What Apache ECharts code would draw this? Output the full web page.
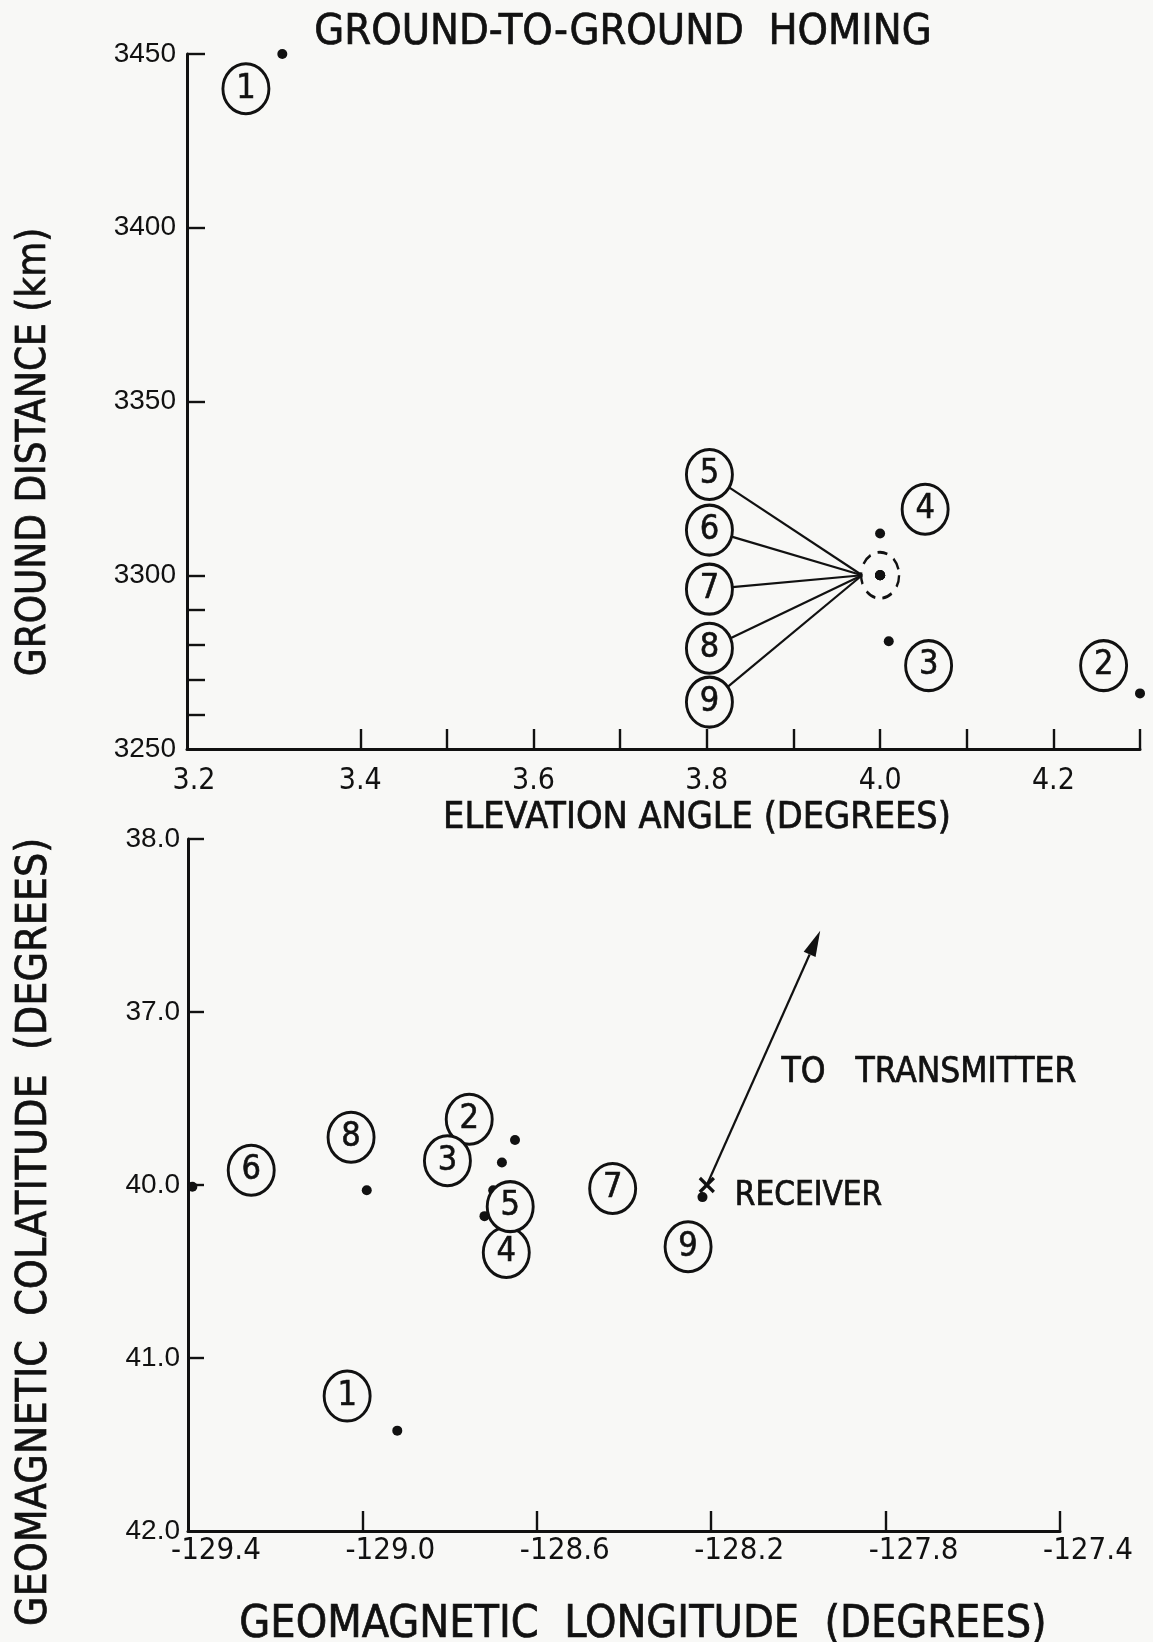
<!DOCTYPE html>
<html>
<head>
<meta charset="utf-8">
<script src="https://cdn.jsdelivr.net/npm/echarts@6/dist/echarts.min.js"></script>
<style>
  html, body { margin: 0; padding: 0; background: #f8f8f6; }
  #chart { width: 1153px; height: 1642px; }
</style>
</head>
<body>
<div id="chart"></div>
<script>
// ---- Ray paths 1..9: arrival elevation angle vs ground distance ----
const pathIds = ['1', '2', '3', '4', '5', '6', '7', '8', '9'];
const elevationDeg = [3.31, 4.30, 4.01, 4.00, 4.00, 4.00, 4.00, 4.00, 4.00];
const groundDistanceKm = [3450, 3266, 3281, 3312, 3300, 3300, 3300, 3300, 3300];

// ---- Same paths: geomagnetic landing coordinates ----
const geomagLongitude = [-128.92, -128.65, -128.68, -128.72, -128.70, -129.39, -128.43, -128.99, -128.22];
const geomagColatitude = [41.42, 39.74, 39.87, 40.18, 40.03, 40.01, 40.04, 40.03, 40.07];
const receiverLonColat = [-128.21, 40.0];
const transmitterBearingTip = [-127.95, 38.53];

// Paths whose points coincide inside the dashed ring (upper panel)
const coincidentPaths = ['5', '6', '7', '8', '9'];

// ---- Axis ticks and labels ----
const elevationLabelTicks = [3.2, 3.4, 3.6, 3.8, 4.0, 4.2];
const elevationMarkTicks = [3.4, 3.5, 3.6, 3.7, 3.8, 3.9, 4.0, 4.1, 4.2, 4.3];
const distanceLabelTicks = [3250, 3300, 3350, 3400, 3450];
const distanceMarkTicks = [3260, 3270, 3280, 3290, 3300, 3350, 3400, 3450];
const longitudeTicks = [-129.4, -129.0, -128.6, -128.2, -127.8, -127.4];
const longitudeTickLabels = ['-129.4', '-129.0', '-128.6', '-128.2', '-127.8', '-127.4'];
const colatitudeTicks = [38, 39, 40, 41, 42];
const colatitudeTickLabels = ['38.0', '37.0', '40.0', '41.0', '42.0'];

// ---- Where the circled path numbers are lettered (axis units) ----
const upperTagElevation = [3.268, 4.258, 4.056, 4.052, 3.803, 3.803, 3.803, 3.803, 3.803];
const upperTagDistance = [3440, 3274, 3274, 3319, 3329, 3313, 3296, 3279, 3263.5];
const lowerTagLongitude = [-129.035, -128.755, -128.805, -128.67, -128.661, -129.255, -128.426, -129.026, -128.253];
const lowerTagColatitude = [41.22, 39.62, 39.86, 40.39, 40.125, 39.915, 40.02, 39.724, 40.357];

const INK = '#111111';
const PAPER = '#f8f8f6';
const COND = '"DejaVu Sans Condensed", "DejaVu Sans", sans-serif';
const ROUND = '"Liberation Sans", Arial, sans-serif';

function labelFor(ticks, labels) {
  return function (v) {
    for (let i = 0; i < ticks.length; i++) {
      if (Math.abs(ticks[i] - v) < 1e-6) return labels[i];
    }
    return '';
  };
}

// lettering is drawn with a slightly heavier pen than the default glyph weight
function lettering(text, size, extra) {
  return Object.assign({
    text: text, fill: INK, fontFamily: COND, fontSize: size,
    stroke: INK, lineWidth: 0.7,
    align: 'center', verticalAlign: 'middle'
  }, extra || {});
}

const axisLineStyle = { color: INK, width: 3 };
const tickLineStyle = { color: INK, width: 2.4 };

const tagSeriesBase = {
  type: 'scatter',
  symbol: 'circle',
  symbolSize: [46, 50],
  clip: false,
  z: 5,
  itemStyle: { color: PAPER, borderColor: INK, borderWidth: 3, opacity: 1 },
  label: {
    show: true,
    position: 'inside',
    formatter: function (p) { return p.value[2]; },
    fontFamily: COND,
    fontSize: 34,
    color: INK,
    textBorderColor: INK,
    textBorderWidth: 0.6
  },
  emphasis: { disabled: true },
  silent: true
};

const dotStyle = { color: INK, opacity: 1 };

const chart = echarts.init(document.getElementById('chart'), null, { renderer: 'canvas' });

const clusterIdx = pathIds.indexOf(coincidentPaths[0]);

chart.setOption({
  backgroundColor: PAPER,
  animation: false,
  grid: [
    { left: 187, top: 54, width: 953, height: 695 },
    { left: 188, top: 839, width: 872, height: 692 }
  ],
  xAxis: [
    {
      gridIndex: 0, type: 'value', min: 3.2, max: 4.3, position: 'bottom',
      axisLine: { onZero: false, lineStyle: axisLineStyle },
      axisTick: { inside: true, length: 20, lineStyle: tickLineStyle, customValues: elevationMarkTicks },
      axisLabel: {
        customValues: elevationLabelTicks,
        formatter: function (v) {
          return Math.abs(v - elevationLabelTicks[0]) < 1e-6 ? '{first|' + v.toFixed(1) + '}' : v.toFixed(1);
        },
        rich: { first: { padding: [0, 0, 0, 14], fontFamily: COND, fontSize: 30, color: INK } },
        margin: 17, fontFamily: COND, fontSize: 30, color: INK
      },
      splitLine: { show: false }
    },
    {
      gridIndex: 1, type: 'value', min: -129.4, max: -127.4, position: 'bottom',
      axisLine: { onZero: false, lineStyle: axisLineStyle },
      axisTick: { inside: true, length: 20, lineStyle: tickLineStyle, customValues: longitudeTicks.slice(1) },
      axisLabel: {
        customValues: longitudeTicks,
        formatter: labelFor(longitudeTicks, longitudeTickLabels),
        padding: [0, 0, 0, 56],
        margin: 4, fontFamily: COND, fontSize: 31, color: INK
      },
      splitLine: { show: false }
    }
  ],
  yAxis: [
    {
      gridIndex: 0, type: 'value', min: 3250, max: 3450,
      axisLine: { onZero: false, lineStyle: axisLineStyle },
      axisTick: { inside: true, length: 18, lineStyle: tickLineStyle, customValues: distanceMarkTicks },
      axisLabel: {
        customValues: distanceLabelTicks,
        formatter: function (v) { return String(Math.round(v)); },
        margin: 11, fontFamily: ROUND, fontSize: 28, color: INK
      },
      splitLine: { show: false }
    },
    {
      gridIndex: 1, type: 'value', min: 38, max: 42, inverse: true,
      axisLine: { onZero: false, lineStyle: axisLineStyle },
      axisTick: { inside: true, length: 16, lineStyle: tickLineStyle, customValues: colatitudeTicks.slice(0, 4) },
      axisLabel: {
        customValues: colatitudeTicks,
        formatter: labelFor(colatitudeTicks, colatitudeTickLabels),
        margin: 8, fontFamily: ROUND, fontSize: 28, color: INK
      },
      splitLine: { show: false }
    }
  ],
  series: [
    // upper panel: arrival points
    {
      type: 'scatter', xAxisIndex: 0, yAxisIndex: 0, clip: false, silent: true,
      symbolSize: 10, itemStyle: dotStyle,
      data: pathIds.map(function (id, i) { return [elevationDeg[i], groundDistanceKm[i], id]; })
    },
    // dashed ring around the coincident points
    {
      type: 'scatter', xAxisIndex: 0, yAxisIndex: 0, clip: false, silent: true,
      symbolSize: [38, 46],
      itemStyle: { color: 'rgba(0,0,0,0)', borderColor: INK, borderWidth: 2.6, borderType: [11, 8], opacity: 1 },
      data: [[elevationDeg[clusterIdx], groundDistanceKm[clusterIdx]]]
    },
    // leader lines from the stacked tags to the ring
    {
      type: 'custom', xAxisIndex: 0, yAxisIndex: 0, silent: true, z: 3,
      data: coincidentPaths.map(function (id) {
        const i = pathIds.indexOf(id);
        return [upperTagElevation[i], upperTagDistance[i], elevationDeg[i], groundDistanceKm[i]];
      }),
      renderItem: function (params, api) {
        const a = api.coord([api.value(0), api.value(1)]);
        const b = api.coord([api.value(2), api.value(3)]);
        const end = [b[0] - 18, b[1]];
        const dx = end[0] - a[0], dy = end[1] - a[1];
        const len = Math.hypot(dx, dy);
        const ux = dx / len, uy = dy / len;
        const rx = 23, ry = 25;
        const t = 1 / Math.sqrt((ux / rx) * (ux / rx) + (uy / ry) * (uy / ry));
        return {
          type: 'line',
          shape: { x1: a[0] + ux * t, y1: a[1] + uy * t, x2: end[0], y2: end[1] },
          style: { stroke: INK, lineWidth: 2.2 }
        };
      }
    },
    // upper panel: circled path numbers
    Object.assign({}, tagSeriesBase, {
      xAxisIndex: 0, yAxisIndex: 0,
      data: pathIds.map(function (id, i) { return [upperTagElevation[i], upperTagDistance[i], id]; })
    }),
    // lower panel: landing points
    {
      type: 'scatter', xAxisIndex: 1, yAxisIndex: 1, clip: false, silent: true,
      symbolSize: 10, itemStyle: dotStyle,
      data: pathIds.map(function (id, i) { return [geomagLongitude[i], geomagColatitude[i], id]; })
    },
    // lower panel: circled path numbers
    Object.assign({}, tagSeriesBase, {
      xAxisIndex: 1, yAxisIndex: 1,
      data: pathIds.map(function (id, i) { return [lowerTagLongitude[i], lowerTagColatitude[i], id]; })
    }),
    // receiver mark and bearing arrow toward the transmitter
    {
      type: 'custom', xAxisIndex: 1, yAxisIndex: 1, silent: true, z: 4,
      data: [[receiverLonColat[0], receiverLonColat[1], transmitterBearingTip[0], transmitterBearingTip[1]]],
      renderItem: function (params, api) {
        const r = api.coord([api.value(0), api.value(1)]);
        const tip = api.coord([api.value(2), api.value(3)]);
        const dx = tip[0] - r[0], dy = tip[1] - r[1];
        const len = Math.hypot(dx, dy);
        const ux = dx / len, uy = dy / len;
        const px = -uy, py = ux;
        const headLen = 26, headHalf = 6.5;
        const base = [tip[0] - ux * headLen, tip[1] - uy * headLen];
        const mid = [(r[0] + tip[0]) / 2, (r[1] + tip[1]) / 2];
        const xs = 7;
        return {
          type: 'group',
          children: [
            { type: 'line', shape: { x1: r[0], y1: r[1], x2: base[0], y2: base[1] },
              style: { stroke: INK, lineWidth: 2.2 } },
            { type: 'polygon', shape: { points: [tip, [base[0] + px * headHalf, base[1] + py * headHalf], [base[0] - px * headHalf, base[1] - py * headHalf]] },
              style: { fill: INK } },
            { type: 'line', shape: { x1: r[0] - xs, y1: r[1] - xs, x2: r[0] + xs, y2: r[1] + xs },
              style: { stroke: INK, lineWidth: 3.2 } },
            { type: 'line', shape: { x1: r[0] - xs, y1: r[1] + xs, x2: r[0] + xs, y2: r[1] - xs },
              style: { stroke: INK, lineWidth: 3.2 } },
            { type: 'text', x: r[0] + 28, y: r[1] + 11,
              style: lettering('RECEIVER', 33, { align: 'left' }) },
            { type: 'text', x: mid[0] + 18, y: mid[1] + 15,
              style: lettering('TO   TRANSMITTER', 35, { align: 'left' }) }
          ]
        };
      }
    }
  ],
  graphic: [
    { type: 'text', x: 623, y: 33, style: lettering('GROUND-TO-GROUND  HOMING', 43) },
    { type: 'text', x: 697, y: 818, style: lettering('ELEVATION ANGLE (DEGREES)', 37.5) },
    { type: 'text', x: 35, y: 452, rotation: Math.PI / 2, style: lettering('GROUND DISTANCE (km)', 40) },
    { type: 'text', x: 643, y: 1625, style: lettering('GEOMAGNETIC  LONGITUDE  (DEGREES)', 44.5) },
    { type: 'text', x: 35, y: 1232, rotation: Math.PI / 2, style: lettering('GEOMAGNETIC  COLATITUDE  (DEGREES)', 42.5) }
  ]
});
</script>
</body>
</html>
